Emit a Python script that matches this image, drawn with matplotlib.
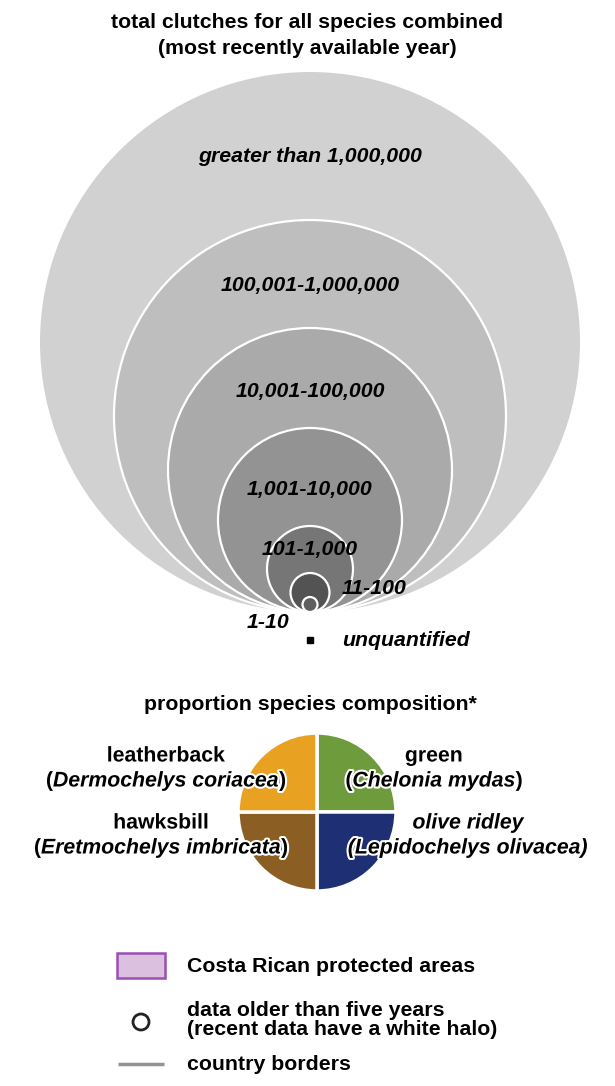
import matplotlib
matplotlib.use('Agg')
import matplotlib.pyplot as plt
from matplotlib.patches import Circle, Wedge, Rectangle
import matplotlib.patheffects as pe

plt.rcParams['font.family'] = ['Liberation Sans', 'DejaVu Sans']

# size classes (total clutches)
size_labels = ['greater than 1,000,000', '100,001-1,000,000', '10,001-100,000',
               '1,001-10,000', '101-1,000', '11-100', '1-10']
radii = [270, 196, 142, 92, 43, 19.5, 7.5]
grays = ['#d1d1d1', '#bebebe', '#aaaaaa', '#939393', '#767676', '#535353', '#5e5e5e']
label_pos = [(310, 156), (310, 286), (310, 392), (310, 490), (310, 550), (374, 589), (268, 623)]

# species composition
species = ['green', 'olive ridley', 'hawksbill', 'leatherback']
sci_names = ['Chelonia mydas', 'Lepidochelys olivacea', 'Eretmochelys imbricata', 'Dermochelys coriacea']
shares = [0.25, 0.25, 0.25, 0.25]
sp_colors = ['#6e9b3c', '#1f2f73', '#8b5f23', '#e9a122']

legend_items = ['Costa Rican protected areas',
                'data older than five years\n(recent data have a white halo)',
                'country borders']

FS = 15.3
fig = plt.figure(figsize=(6.15, 10.86), dpi=100)
ax = fig.add_axes([0, 0, 1, 1])
ax.set_xlim(0, 615)
ax.set_ylim(1086, 0)
ax.axis('off')

# title
ax.text(307, 23, 'total clutches for all species combined', ha='center', va='center',
        fontsize=FS, weight='bold')
ax.text(307, 48, '(most recently available year)', ha='center', va='center',
        fontsize=FS, weight='bold')

# nested circles, all touching at the bottom
cx, base = 310, 612
for i, (r, c) in enumerate(zip(radii, grays)):
    ec = 'none' if i == 0 else 'white'
    ax.add_patch(Circle((cx, base - r), r, facecolor=c, edgecolor=ec, lw=1.6, zorder=2 + i))
for lab, (x, y) in zip(size_labels, label_pos):
    ax.text(x, y, lab, ha='center', va='center', fontsize=FS, weight='bold',
            style='italic', zorder=20)

# unquantified
ax.add_patch(Rectangle((307, 637), 6, 6, color='black', zorder=5))
ax.text(342, 641, 'unquantified', ha='left', va='center', fontsize=FS,
        weight='bold', style='italic')

# pie of species composition
ax.text(310, 705, 'proportion species composition*', ha='center', va='center',
        fontsize=FS, weight='bold')
pc, pr = (317, 812), 79
theta = 270
for s, c in zip(shares, sp_colors):
    t2 = theta + 360 * s
    ax.add_patch(Wedge(pc, pr, theta, t2, facecolor=c, edgecolor='white', lw=2.5, zorder=3))
    theta = t2

halo = [pe.withStroke(linewidth=3, foreground='white')]
renderer = fig.canvas.get_renderer()


def mixed_line(xc, y, parts):
    texts = []
    for s, st in parts:
        t = ax.text(0, y, s, ha='left', va='center', fontsize=FS, weight='bold',
                    style=st, zorder=10, path_effects=halo)
        texts.append(t)
    widths = [t.get_window_extent(renderer).width for t in texts]
    x = xc - sum(widths) / 2
    for t, w in zip(texts, widths):
        t.set_x(x)
        x += w


name_pos = {'green': (434, 756, 781), 'olive ridley': (468, 823, 848),
            'hawksbill': (161, 823, 848), 'leatherback': (166, 756, 781)}
for sp, sci in zip(species, sci_names):
    x, y1, y2 = name_pos[sp]
    if sp == 'olive ridley':
        ax.text(x, y1, sp, ha='center', va='center', fontsize=FS, weight='bold',
                style='italic', path_effects=halo, zorder=10)
        mixed_line(x, y2, [('(' + sci + ')', 'italic')])
    else:
        ax.text(x, y1, sp, ha='center', va='center', fontsize=FS, weight='bold',
                path_effects=halo, zorder=10)
        mixed_line(x, y2, [('(', 'normal'), (sci, 'italic'), (')', 'normal')])

# bottom legend
ax.add_patch(Rectangle((117, 953), 48, 25, facecolor='#dcc0e0', edgecolor='#9c4fb2', lw=1.8))
ax.add_patch(Circle((141, 1022), 8, facecolor='white', edgecolor='#222222', lw=2))
ax.plot([118, 164], [1064, 1064], color='#939393', lw=2.5, solid_capstyle='butt')
ax.text(187, 967, legend_items[0], ha='left', va='center', fontsize=FS, weight='bold')
ax.text(187, 1020, legend_items[1], ha='left', va='center', fontsize=FS, weight='bold',
        linespacing=1.05)
ax.text(187, 1065, legend_items[2], ha='left', va='center', fontsize=FS, weight='bold')

fig.savefig('out.png', dpi=100)
